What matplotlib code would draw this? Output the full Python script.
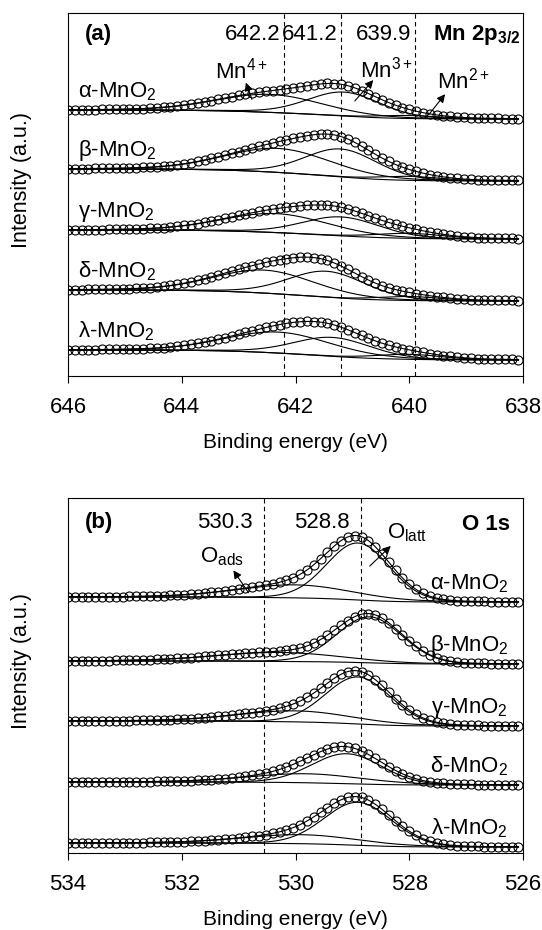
import numpy as np
import matplotlib.pyplot as plt

plt.rcParams['font.family'] = ['Liberation Sans', 'DejaVu Sans']
plt.rcParams['mathtext.fontset'] = 'custom'
plt.rcParams['mathtext.rm'] = 'Liberation Sans'
plt.rcParams['mathtext.it'] = 'Liberation Sans:italic'
plt.rcParams['mathtext.bf'] = 'Liberation Sans:bold'

samples = ['α-MnO$_2$', 'β-MnO$_2$', 'γ-MnO$_2$', 'δ-MnO$_2$', 'λ-MnO$_2$']

# ---- Mn 2p3/2 : fitted peak parameters (centre eV, height a.u., fwhm eV) ----
mn_be = np.arange(646.0, 637.99, -0.12)
mn_bg_high = [266, 207, 146, 86, 26]   # background at 646 eV
mn_bg_low = [257, 195, 137, 75, 16]    # background at 638 eV
mn4_pos = [642.45, 642.3, 642.35, 642.55, 642.3]
mn4_h = [18, 24, 19, 23, 21]
mn4_w = [2.2, 2.2, 2.2, 2.1, 2.2]
mn3_pos = [641.15, 641.2, 641.2, 641.45, 641.35]
mn3_h = [24, 28, 19, 26, 19]
mn3_w = [1.5, 1.5, 1.6, 1.6, 1.6]
mn2_pos = [640.0, 640.0, 640.0, 640.0, 640.0]
mn2_h = [3, 4, 5, 4, 5]
mn2_w = [1.3, 1.3, 1.4, 1.3, 1.4]
mn_lines = [642.2, 641.2, 639.9]

# ---- O 1s ----
o_be = np.arange(534.0, 525.99, -0.12)
o_bg_high = [256, 192, 132, 71, 10]
o_bg_low = [251, 189, 127, 68, 6]
olatt_pos = [528.9, 528.7, 528.9, 529.1, 528.9]
olatt_h = [57, 46, 47, 30, 43]
olatt_w = [1.3, 1.35, 1.35, 1.45, 1.4]
oads_pos = [530.0, 530.3, 530.0, 529.8, 529.9]
oads_h = [13, 9, 11, 9, 9]
oads_w = [2.4, 2.6, 2.4, 2.4, 2.4]
o_lines = [530.55, 528.85]


def peak(x, c, h, w, eta=0.15):
    g = np.exp(-4 * np.log(2) * (x - c) ** 2 / w ** 2)
    l = 1 / (1 + 4 * (x - c) ** 2 / w ** 2)
    return h * ((1 - eta) * g + eta * l)


def shirley(x, total, hi, lo):
    # x runs from high to low binding energy
    cum = np.cumsum(total[::-1])[::-1]
    return lo + (hi - lo) * cum / cum[0]


def draw_spectrum(ax, x, comps, hi, lo):
    xf = np.linspace(x[0], x[-1], 400)
    tot = sum(peak(xf, *c) for c in comps)
    bg = shirley(xf, tot, hi, lo)
    ax.plot(xf, bg, color='black', lw=0.8)
    for c in comps:
        ax.plot(xf, bg + peak(xf, *c), color='black', lw=0.8)
    ax.plot(xf, bg + tot, color='black', lw=0.8)
    totp = np.interp(x[::-1], xf[::-1], (bg + tot)[::-1])[::-1]
    ax.plot(x, totp, 'o', ms=6.5, mfc='none', mec='black', mew=0.8)


fig = plt.figure(figsize=(5.42, 9.30), dpi=100)
ax1 = fig.add_axes([0.1255, 0.5957, 0.8395, 0.3903])
ax2 = fig.add_axes([0.1255, 0.0828, 0.8395, 0.3817])

fs = 16
for i in range(5):
    comps = [(mn4_pos[i], mn4_h[i], mn4_w[i]),
             (mn3_pos[i], mn3_h[i], mn3_w[i]),
             (mn2_pos[i], mn2_h[i], mn2_w[i])]
    draw_spectrum(ax1, mn_be, comps, mn_bg_high[i], mn_bg_low[i])
    ax1.text(645.82, mn_bg_high[i] + 13, samples[i], fontsize=fs, va='baseline')

    comps = [(olatt_pos[i], olatt_h[i], olatt_w[i], 0.05),
             (oads_pos[i], oads_h[i], oads_w[i])]
    draw_spectrum(ax2, o_be, comps, o_bg_high[i], o_bg_low[i])
    ax2.text(526.26, o_bg_low[i] + 13, samples[i], fontsize=fs, va='baseline', ha='right')

for v in mn_lines:
    ax1.axvline(v, color='black', ls=(0, (4, 3)), lw=0.8)
    ax1.text(v + 0.06, 336, f'{v:.1f}', fontsize=fs, ha='right', va='baseline')
for v, lab in zip(o_lines, ['530.3', '528.8']):
    ax2.axvline(v, color='black', ls=(0, (4, 3)), lw=0.8)
    ax2.text(v + 0.2, 325, lab, fontsize=fs, ha='right', va='baseline')

ax1.text(645.7, 336, '(a)', fontsize=fs, fontweight='bold', va='baseline')
ax1.text(638.05, 336, r'Mn 2p$_{\mathbf{3/2}}$', fontsize=fs, fontweight='bold',
         ha='right', va='baseline')
ax2.text(533.7, 325, '(b)', fontsize=fs, fontweight='bold', va='baseline')
ax2.text(526.23, 323, 'O 1s', fontsize=fs, fontweight='bold', ha='right', va='baseline')

arrow = dict(arrowstyle='-|>', color='black', lw=0.8, mutation_scale=12)
ax1.annotate('', xy=(642.89, 296), xytext=(642.75, 274), arrowprops=arrow)
ax1.text(643.42, 298, 'Mn$^{4+}$', fontsize=fs, va='baseline')
ax1.annotate('', xy=(640.60, 298), xytext=(640.99, 273), arrowprops=arrow)
ax1.text(640.87, 299, 'Mn$^{3+}$', fontsize=fs, va='baseline')
ax1.annotate('', xy=(639.34, 284), xytext=(639.69, 259), arrowprops=arrow)
ax1.text(639.51, 288, 'Mn$^{2+}$', fontsize=fs, va='baseline')

ax2.annotate('', xy=(531.12, 285), xytext=(530.80, 258), arrowprops=arrow)
ax2.text(531.68, 291, r'O$_{\mathrm{ads}}$', fontsize=fs, va='baseline')
ax2.annotate('', xy=(528.29, 309), xytext=(528.73, 285), arrowprops=arrow)
ax2.text(528.39, 315, r'O$_{\mathrm{latt}}$', fontsize=fs, va='baseline')

for ax, lim, ymax in [(ax1, (646, 638), 363), (ax2, (534, 526), 355)]:
    ax.set_xlim(*lim)
    ax.set_ylim(0, ymax)
    ax.set_xticks(np.arange(lim[1], lim[0] + 1, 2))
    ax.set_yticks([])
    ax.tick_params(axis='x', labelsize=16, length=5, pad=10, width=0.8)
    ax.set_xlabel('Binding energy (eV)', fontsize=15, labelpad=11)
    ax.set_ylabel('Intensity (a.u.)', fontsize=15.5)
    ax.yaxis.set_label_coords(-0.079, 0.54)
    for s in ax.spines.values():
        s.set_linewidth(0.8)

fig.savefig('out.png', dpi=100)
